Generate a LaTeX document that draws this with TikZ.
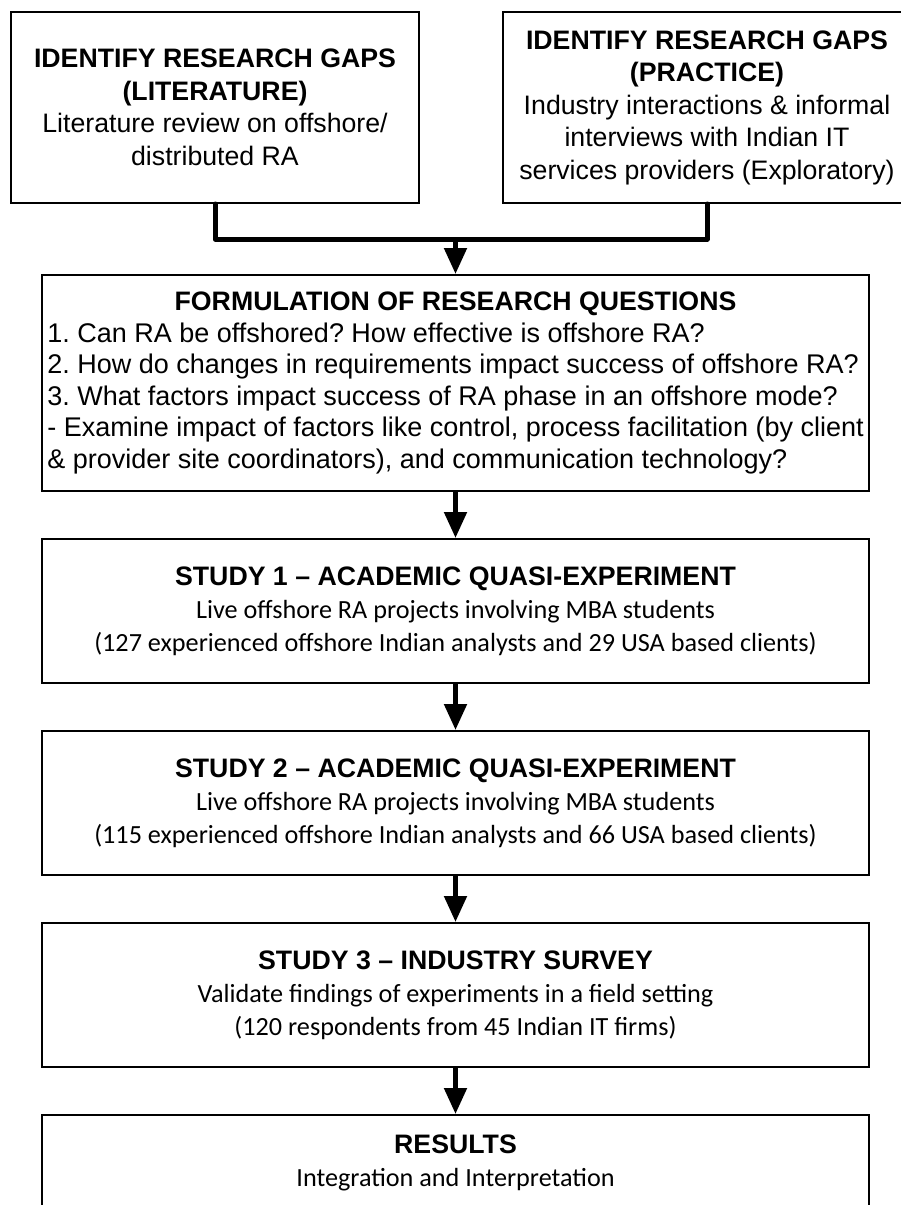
\documentclass[tikz,border=0pt]{standalone}
\usepackage{fontspec}
\setmainfont{Liberation Sans}
\newfontfamily\calfont{Carlito}
\usetikzlibrary{arrows.meta}
\frenchspacing
\newcommand\bodyc{\calfont\fontsize{26.2}{33}\selectfont}
\begin{document}
\begin{tikzpicture}[x=1pt,y=-1pt,
  box/.style={draw, line width=2pt, rectangle, inner sep=0pt, align=center,
    font=\fontsize{26.7}{32.5}\selectfont},
  topbox/.style={box, minimum width=408pt, minimum height=191pt},
  midbox/.style={box, minimum width=827pt, minimum height=144pt,
    font=\fontsize{26.7}{33}\selectfont},
  conn/.style={line width=5pt, line join=round, line cap=round},
  arr/.style={line width=5pt, -{Triangle[width=22pt,length=26pt]}}]
\useasboundingbox (0,0) rectangle (900,1205);

\node[topbox] (lit) at (215,107.5) {\bfseries IDENTIFY RESEARCH GAPS\\ \bfseries (LITERATURE)\\ Literature review on offshore/\\ distributed RA};
\node[topbox] (prac) at (707,107.5) {\bfseries IDENTIFY RESEARCH GAPS\\ \bfseries (PRACTICE)\\ Industry interactions \& informal\\ interviews with Indian IT\\ services providers (Exploratory)};

\node[box, minimum width=827pt, minimum height=216pt, font=\fontsize{27}{31.5}\selectfont] (form) at (455.5,383) {%
\begin{tabular}{@{}l@{}}
\multicolumn{1}{@{}c@{}}{\fontsize{26.7}{31.5}\selectfont\bfseries FORMULATION OF RESEARCH QUESTIONS}\\
1. Can RA be offshored? How effective is offshore RA?\\
2. How do changes in requirements impact success of offshore RA?\\
3. What factors impact success of RA phase in an offshore mode?\\
- Examine impact of factors like control, process facilitation (by client\\
\& provider site coordinators), and communication technology?
\end{tabular}};

\node[midbox] (s1) at (455.5,611) {\bfseries STUDY 1 -- ACADEMIC QUASI-EXPERIMENT\\ \bodyc Live offshore RA projects involving MBA students\\ \bodyc (127 experienced offshore Indian analysts and 29 USA based clients)};
\node[midbox] (s2) at (455.5,803) {\bfseries STUDY 2 -- ACADEMIC QUASI-EXPERIMENT\\ \bodyc Live offshore RA projects involving MBA students\\ \bodyc (115 experienced offshore Indian analysts and 66 USA based clients)};
\node[midbox] (s3) at (455.5,995) {\bfseries STUDY 3 -- INDUSTRY SURVEY\\ \bodyc Validate findings of experiments in a field setting\\ \bodyc (120 respondents from 45 Indian IT firms)};
\node[box, minimum width=827pt, minimum height=96pt, font=\fontsize{26.7}{33}\selectfont] (res) at (455.5,1163) {\bfseries RESULTS\\ \bodyc Integration and Interpretation};

\coordinate (jl) at (215,239);
\coordinate (jr) at (707,239);
\coordinate (jm) at (455.5,239);
\draw[conn] (lit.south) -- (jl) -- (jr) -- (prac.south);
\draw[arr] (jm) -- (form.north);
\draw[arr] (form.south) -- (s1.north);
\draw[arr] (s1.south) -- (s2.north);
\draw[arr] (s2.south) -- (s3.north);
\draw[arr] (s3.south) -- (res.north);
\end{tikzpicture}
\end{document}
